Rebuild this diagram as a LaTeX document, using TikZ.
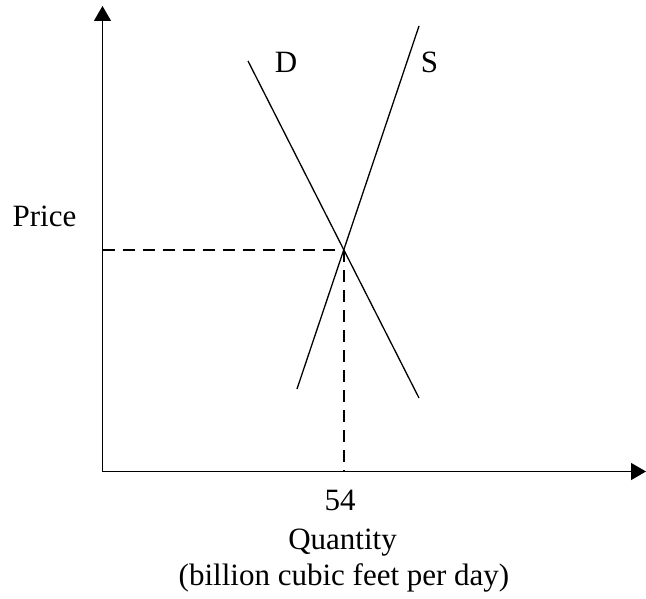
\documentclass[tikz,border=0pt]{standalone}
\usepackage{fontspec}
\setmainfont{Liberation Serif}
\usetikzlibrary{arrows.meta}
\begin{document}
\begin{tikzpicture}[x=1pt,y=-1pt,
  axis/.style={line width=1.4pt,-{Triangle[length=15pt,width=17pt]}},
  curve/.style={line width=1.3pt},
  guide/.style={line width=1.2pt,dash pattern=on 12pt off 8pt},
  lbl/.style={font=\fontsize{31}{36}\selectfont,inner sep=0pt,anchor=base}]
\useasboundingbox (0,0) rectangle (646,599);
\coordinate (O) at (102.5,471.5);
\coordinate (ytop) at (102.5,6);
\coordinate (xend) at (646,471.5);
\coordinate (E) at (344,250);
\coordinate (Dtop) at (248,61);
\coordinate (Dbot) at (419,398);
\coordinate (Stop) at (419,26);
\coordinate (Sbot) at (297,389);
\coordinate (Ey) at (102.5,250);
\coordinate (Ex) at (344,471.5);
\draw[axis] (O) -- (ytop);
\draw[axis] (O) -- (xend);
\draw[curve] (Dtop) -- (Dbot);
\draw[curve] (Sbot) -- (Stop);
\draw[guide] (Ey) -- (E);
\draw[guide] (E) -- (Ex);
\node[lbl] (dl) at (286,73) {D};
\node[lbl] (sl) at (429.5,73) {S};
\node[lbl] (pl) at (44.5,227) {Price};
\node[lbl] (ql) at (340,510) {54};
\node[lbl] (qt) at (342.5,549) {Quantity};
\node[lbl] (un) at (344,585) {(billion cubic feet per day)};
\end{tikzpicture}
\end{document}
